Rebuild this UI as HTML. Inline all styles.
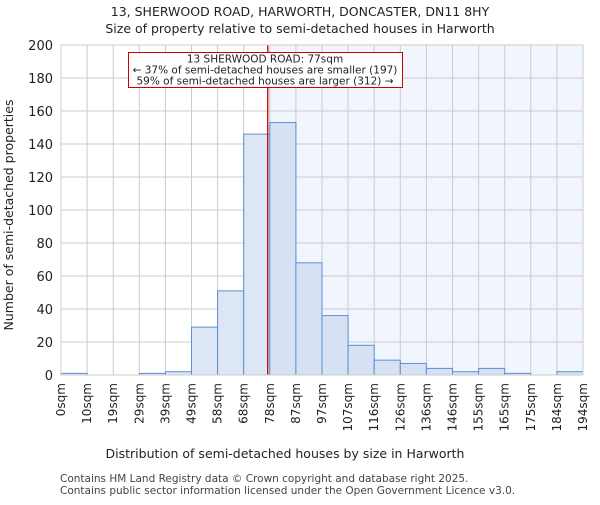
<!DOCTYPE html>
<html><head><meta charset="utf-8"><style>
body{margin:0;background:#fff;}
svg{font-family:"DejaVu Sans","Liberation Sans",sans-serif;}
</style></head><body>
<svg width="600" height="500">
<text x="300" y="16" text-anchor="middle" font-size="12.5" fill="#222">13, SHERWOOD ROAD, HARWORTH, DONCASTER, DN11 8HY</text>
<text x="300" y="33" text-anchor="middle" font-size="12.5" fill="#222">Size of property relative to semi-detached houses in Harworth</text>
<g id="plot"></g>
<text x="285" y="458" text-anchor="middle" font-size="12.5" fill="#222">Distribution of semi-detached houses by size in Harworth</text>
<text transform="translate(13,215) rotate(-90)" text-anchor="middle" font-size="12.5" fill="#222">Number of semi-detached properties</text>
<text x="60" y="482" font-size="10.5" fill="#444">Contains HM Land Registry data © Crown copyright and database right 2025.</text>
<text x="60" y="494" font-size="10.5" fill="#444">Contains public sector information licensed under the Open Government Licence v3.0.</text>
</svg>
<script>
const categories=["0sqm","10sqm","19sqm","29sqm","39sqm","49sqm","58sqm","68sqm","78sqm","87sqm","97sqm","107sqm","116sqm","126sqm","136sqm","146sqm","155sqm","165sqm","175sqm","184sqm","194sqm"];
const counts=[1,0,0,1,2,29,51,146,153,68,36,18,9,7,4,2,4,1,0,2];
const yTicks=[0,20,40,60,80,100,120,140,160,180,200];
const propertyBin=7.92;
const NS="http://www.w3.org/2000/svg";
const g=document.getElementById('plot');
const X0=61,X1=583,Y0=375,Y1=45,YMAX=200;
const nb=counts.length,bw=(X1-X0)/nb;
const xs=i=>X0+i*bw, ys=v=>Y0-(v/YMAX)*(Y0-Y1);
function mk(t,a){const e=document.createElementNS(NS,t);for(const k in a)e.setAttribute(k,a[k]);g.appendChild(e);return e;}
const lx=xs(propertyBin);
let e=mk('rect',{x:lx,y:Y1,width:X1-lx,height:Y0-Y1,fill:'#f1f5fd'});


yTicks.forEach(v=>{const l=mk('line',{x1:X0,x2:X1,y1:ys(v),y2:ys(v),stroke:'#ccc','stroke-width':1});


const t=mk('text',{x:X0-8,y:ys(v)+5,'text-anchor':'end','font-size':13,fill:'#222'});t.textContent=v;

});
categories.forEach((c,i)=>{const x=xs(i);const l=mk('line',{x1:x,x2:x,y1:Y1,y2:Y0,stroke:'#ccc','stroke-width':1});


const t=mk('text',{transform:`translate(${x+4},${Y0+8}) rotate(-90)`,'text-anchor':'end','font-size':12,fill:'#222'});t.textContent=c;

});
counts.forEach((v,i)=>{const r=mk('rect',{x:xs(i),y:ys(v),width:bw,height:Y0-ys(v),fill:i<propertyBin?'#dde6f5':'#d6e1f3',stroke:'#5b8fd6','stroke-width':1});

});
e=mk('line',{x1:lx,x2:lx,y1:Y1,y2:Y0,stroke:'#cc0000','stroke-width':1.3});


e=mk('rect',{x:X0,y:Y1,width:X1-X0,height:Y0-Y1,fill:'none',stroke:'#ccc'});


e=mk('rect',{x:128.5,y:52.5,width:274,height:35,fill:'#fff',stroke:'#cc0000','stroke-width':1});


["13 SHERWOOD ROAD: 77sqm","← 37% of semi-detached houses are smaller (197)","59% of semi-detached houses are larger (312) →"].forEach((s,i)=>{const t=mk('text',{x:265,y:62.5+i*11,'text-anchor':'middle','font-size':10.5,fill:'#222'});t.textContent=s;

});
</script>
</body></html>
